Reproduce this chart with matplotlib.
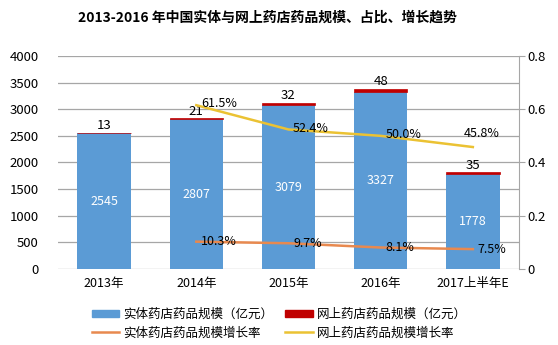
import matplotlib
matplotlib.use("Agg")
import matplotlib.pyplot as plt
import numpy as np
from matplotlib.lines import Line2D
from matplotlib.patches import Patch

plt.rcParams['font.family'] = ['Noto Sans CJK SC', 'DejaVu Sans']

categories = ['2013年', '2014年', '2015年', '2016年', '2017上半年E']
offline_scale = [2545, 2807, 3079, 3327, 1778]
online_scale = [13, 21, 32, 48, 35]
offline_growth = [None, 0.103, 0.097, 0.081, 0.075]
online_growth = [None, 0.615, 0.524, 0.500, 0.458]
left_ticks = [0, 500, 1000, 1500, 2000, 2500, 3000, 3500, 4000]
right_ticks = [0, 0.2, 0.4, 0.6, 0.8]
title = '2013-2016 年中国实体与网上药店药品规模、占比、增长趋势'
legend_labels = ['实体药店药品规模（亿元）', '网上药店药品规模（亿元）',
                 '实体药店药品规模增长率', '网上药店药品规模增长率']

blue = '#5B9BD5'
red = '#C00000'
orange = '#E8894F'
yellow = '#EBC233'
grid_c = '#A6A6A6'

fig = plt.figure(figsize=(5.58, 3.45), dpi=100)
ax = fig.add_axes([0.104, 0.220, 0.826, 0.618])
ax2 = ax.twinx()
ax.set_zorder(1)
ax2.set_zorder(2)
ax.patch.set_visible(False)

x = np.arange(len(categories))
w = 0.58
ax.bar(x, offline_scale, w, color=blue, zorder=2)
ax.bar(x, online_scale, w, bottom=offline_scale, color=red, edgecolor=red,
       linewidth=0.5, zorder=2)

for xi, v in zip(x, offline_scale):
    ax.text(xi, v / 2, str(v), ha='center', va='center', color='white', fontsize=9)
for xi, b, v in zip(x, offline_scale, online_scale):
    ax.text(xi, b + v + 15, str(v), ha='center', va='bottom', color='black', fontsize=9.5)

ax.set_ylim(0, 4000)
ax.set_xlim(-0.5, len(categories) - 0.5)
ax.set_yticks(left_ticks)
ax.set_yticklabels([str(t) for t in left_ticks], fontsize=9.5)
ax.tick_params(axis='y', length=0, pad=14)
ax.set_xticks(x)
ax.set_xticklabels(categories, fontsize=9)
ax.tick_params(axis='x', length=0, pad=6)
ax.yaxis.grid(True, color=grid_c, linewidth=0.9, zorder=0)
ax.set_axisbelow(True)
for s in ['left', 'top', 'bottom', 'right']:
    ax.spines[s].set_visible(False)

xs = [xi for xi, v in zip(x, offline_growth) if v is not None]
og = [v for v in offline_growth if v is not None]
ng = [v for v in online_growth if v is not None]
ax2.plot(xs, og, color=orange, linewidth=1.8)
ax2.plot(xs, ng, color=yellow, linewidth=1.8)
for xi, v in zip(xs, og):
    ax2.text(xi + 0.05, v, f'{v*100:.1f}%', ha='left', va='center', fontsize=9)
for i, (xi, v) in enumerate(zip(xs, ng)):
    if i == len(ng) - 1:
        ax2.text(xi + 0.1, v + 0.025, f'{v*100:.1f}%', ha='center', va='bottom', fontsize=9)
    else:
        ax2.text(xi + 0.05, v + 0.005, f'{v*100:.1f}%', ha='left', va='center', fontsize=9)

ax2.set_ylim(0, 0.8)
ax2.set_yticks(right_ticks)
ax2.set_yticklabels(['0', '0.2', '0.4', '0.6', '0.8'], fontsize=9.5)
ax2.tick_params(axis='y', length=4, color=grid_c, pad=2)
for s in ['left', 'top', 'bottom']:
    ax2.spines[s].set_visible(False)
ax2.spines['right'].set_color(grid_c)

fig.text(0.48, 0.948, title, ha='center', va='center', fontsize=10, fontweight='bold')

h_blue = Patch(color=blue)
h_red = Patch(color=red)
h_orange = Line2D([], [], color=orange, linewidth=1.8)
h_yellow = Line2D([], [], color=yellow, linewidth=1.8)
handles = [h_blue, h_orange, h_red, h_yellow]
labels = [legend_labels[0], legend_labels[2], legend_labels[1], legend_labels[3]]
fig.legend(handles, labels, loc='center', bbox_to_anchor=(0.5, 0.062),
           ncol=2, frameon=False, fontsize=9, handlelength=2.2, handleheight=0.5,
           columnspacing=1.0, handletextpad=0.3, labelspacing=0.45)

fig.savefig('out.png', dpi=100)
